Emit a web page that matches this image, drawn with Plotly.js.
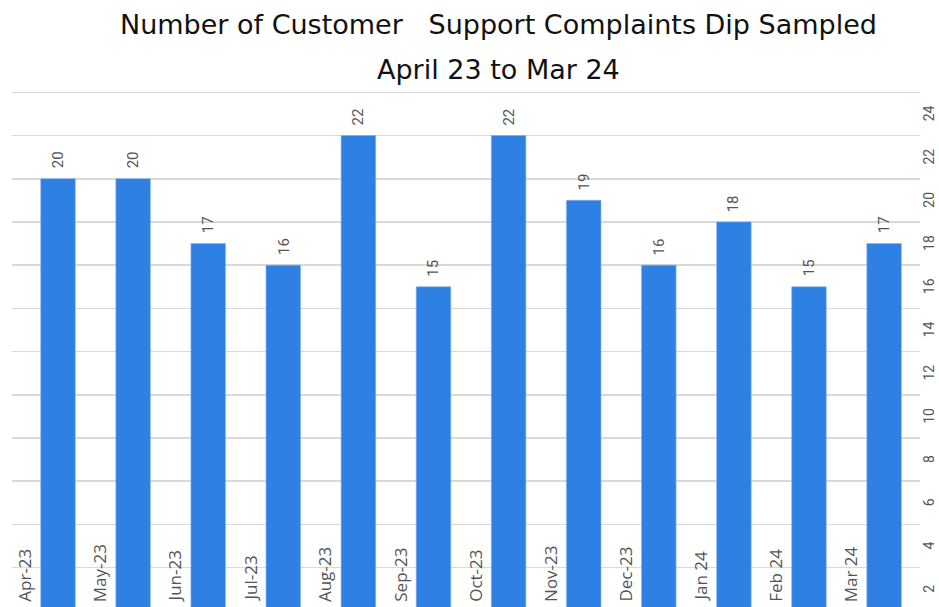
<!DOCTYPE html>
<html>
<head>
<meta charset="utf-8">
<script src="https://cdn.plot.ly/plotly-3.0.1.min.js"></script>
<style>html,body{margin:0;padding:0;background:#fff;}#chart{width:939px;height:607px;}</style>
</head>
<body>
<div id="chart"></div>
<script>
const months = ["Apr-23","May-23","Jun-23","Jul-23","Aug-23","Sep-23","Oct-23","Nov-23","Dec-23","Jan 24","Feb 24","Mar 24"];
const complaints = [20,20,17,16,22,15,22,19,16,18,15,17];
const titleLine1 = "Number of Customer &nbsp; Support Complaints Dip Sampled";
const titleLine2 = "April 23 to Mar 24";
const yTicks = [2,4,6,8,10,12,14,16,18,20,22,24];

const plotTop = 91, plotH = 607 - 91;
const labelFont = {family: 'Open Sans, sans-serif', size: 17, color: '#555555'};
const valueFont = {family: 'Roboto, sans-serif', size: 15, color: '#555555'};
const tickFont = {family: 'Roboto, sans-serif', size: 14, color: '#555555'};
const titleFont = {family: 'DejaVu Sans, sans-serif', size: 27, color: '#111111'};

const annotations = [];
months.forEach((m, i) => {
  annotations.push({
    x: i - 0.45, xref: 'x', y: 0, yref: 'paper',
    text: m, showarrow: false, textangle: -90,
    xanchor: 'center', yanchor: 'bottom', yshift: 3,
    font: labelFont
  });
  annotations.push({
    x: i, xref: 'x', y: complaints[i], yref: 'y',
    text: String(complaints[i]), showarrow: false, textangle: -90,
    xanchor: 'center', yanchor: 'bottom', yshift: 8,
    font: valueFont
  });
});
yTicks.forEach(v => {
  annotations.push({
    x: 1, xref: 'paper', y: v, yref: 'y',
    text: String(v), showarrow: false, textangle: -90,
    xanchor: 'left', yanchor: 'middle', xshift: -1, yshift: -21,
    font: tickFont
  });
});
annotations.push({
  x: 0.536, xref: 'paper', y: 1 + (plotTop - 24) / plotH, yref: 'paper', yanchor: 'middle', xanchor: 'center',
  text: titleLine1, showarrow: false, font: titleFont
});
annotations.push({
  x: 0.536, xref: 'paper', y: 1 + (plotTop - 70) / plotH, yref: 'paper', yanchor: 'middle', xanchor: 'center',
  text: titleLine2, showarrow: false, font: titleFont
});

const trace = {
  type: 'bar', x: months, y: complaints,
  marker: {color: '#2e80e2', line: {color: '#7fb2ef', width: 0.6}},
  width: 0.46, hoverinfo: 'x+y'
};

const layout = {
  width: 939, height: 607,
  margin: {l: 12, r: 19, t: 91, b: 0, pad: 0},
  paper_bgcolor: '#ffffff', plot_bgcolor: '#ffffff',
  showlegend: false,
  xaxis: {type: 'category', range: [-0.6125, 11.478], showticklabels: false, showgrid: false, zeroline: false, showline: false, ticks: ''},
  yaxis: {side: 'right', range: [0.18, 24.06], tickvals: yTicks, showticklabels: false,
    showgrid: true, gridcolor: '#d9d9d9', gridwidth: 1.6, zeroline: false, showline: false, ticks: ''},
  annotations: annotations
};

Plotly.newPlot('chart', [trace], layout, {displayModeBar: false, staticPlot: true});
</script>
</body>
</html>
